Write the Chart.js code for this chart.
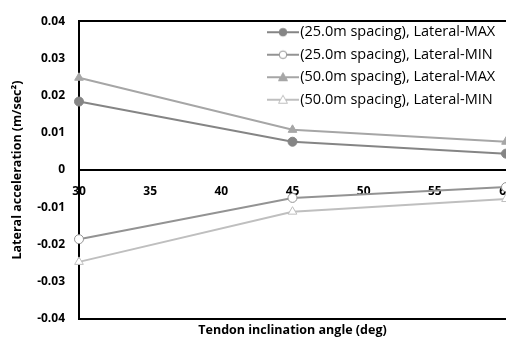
<!DOCTYPE html>
<html><head><meta charset="utf-8">
<script src="https://cdn.jsdelivr.net/npm/chart.js@4/dist/chart.umd.min.js"></script>
<style>html,body{margin:0;padding:0;background:#fff}#wrap{width:506px;height:340px}</style>
</head><body><div id="wrap"><canvas id="c" width="506" height="340"></canvas></div>
<script>
// ---- data ----
const angles = [30, 45, 60];
const max25 = [0.0184, 0.0076, 0.0044];
const min25 = [-0.0186, -0.0075, -0.0046];
const max50 = [0.0248, 0.0108, 0.0076];
const min50 = [-0.0247, -0.0112, -0.0078];
const seriesNames = [
  '(25.0m spacing), Lateral-MAX',
  '(25.0m spacing), Lateral-MIN',
  '(50.0m spacing), Lateral-MAX',
  '(50.0m spacing), Lateral-MIN'
];
const xTicks = [30, 35, 40, 45, 50, 55, 60];
const yTicks = [-0.04, -0.03, -0.02, -0.01, 0, 0.01, 0.02, 0.03, 0.04];
const xTitle = 'Tendon inclination angle (deg)';
const yTitle = 'Lateral acceleration (m/sec\u00B2)';

// ---- styles ----
const colors = ['#858585', '#939393', '#a6a6a6', '#bfbfbf'];
const shapes = ['circle', 'circle', 'triangle', 'triangle'];
const filled = [true, false, true, false];
const seriesValues = [max25, min25, max50, min50];

function pts(vals) { return angles.map((a, i) => ({x: a, y: vals[i]})); }

function makeSymbol(color, shape, fill) {
  const c = document.createElement('canvas');
  c.width = 32; c.height = 12;
  const g = c.getContext('2d');
  g.strokeStyle = color; g.lineWidth = 2;
  g.beginPath(); g.moveTo(0, 6); g.lineTo(32, 6); g.stroke();
  g.lineWidth = 1;
  g.fillStyle = fill ? color : '#ffffff';
  g.beginPath();
  if (shape === 'circle') { g.arc(16, 6, 3.8, 0, Math.PI * 2); }
  else { g.moveTo(16, 1.5); g.lineTo(20.5, 9.5); g.lineTo(11.5, 9.5); g.closePath(); }
  g.fill(); g.stroke();
  return c;
}

const datasets = seriesValues.map((v, i) => ({
  label: seriesNames[i],
  data: pts(v),
  borderColor: colors[i],
  backgroundColor: colors[i],
  borderWidth: 2,
  clip: false,
  pointStyle: shapes[i],
  pointRadius: shapes[i] === 'circle' ? 4.5 : 5,
  pointBorderWidth: 1,
  pointBackgroundColor: filled[i] ? colors[i] : '#ffffff',
  pointBorderColor: colors[i],
  tension: 0
}));

const legendPlace = {
  id: 'legendPlace',
  afterLayout(chart) {
    const l = chart.legend; if (!l) return;
    const w = l.width, h = l.height;
    l.left = 265; l.top = 17; l.right = l.left + w; l.bottom = l.top + h;
  }
};

const tickFont = {family: 'Open Sans', size: 12, weight: 'bold'};

new Chart(document.getElementById('c'), {
  type: 'line',
  data: {datasets},
  plugins: [legendPlace],
  options: {
    responsive: false,
    animation: false,
    layout: {padding: 0, autoPadding: false},
    plugins: {
      tooltip: {enabled: false},
      legend: {
        position: 'chartArea',
        align: 'start',
        labels: {
          usePointStyle: true,
          pointStyleWidth: 20,
          padding: 8,
          color: '#000',
          font: {family: 'Open Sans', size: 14.5},
          generateLabels(chart) {
            return chart.data.datasets.map((d, i) => ({
              text: d.label,
              pointStyle: makeSymbol(colors[i], shapes[i], filled[i]),
              fillStyle: colors[i], strokeStyle: colors[i], lineWidth: 0,
              fontColor: '#000', hidden: false, datasetIndex: i
            }));
          }
        }
      }
    },
    scales: {
      x: {
        type: 'linear', position: {y: 0}, min: 30, max: 60, z: 1,
        afterBuildTicks(s) { s.ticks = xTicks.map(v => ({value: v})); },
        afterFit(s) { s.paddingLeft = 0; s.paddingRight = 0; },
        grid: {display: false, drawTicks: false},
        border: {display: true, color: '#000', width: 2},
        ticks: {color: '#000', font: tickFont, padding: 14, maxRotation: 0, autoSkip: false}
      },
      xb: {
        type: 'linear', axis: 'x', position: 'bottom', min: 30, max: 60, z: 1,
        afterFit(s) { s.height = 19; },
        grid: {display: false, drawTicks: false},
        border: {display: true, color: '#000', width: 2},
        ticks: {display: false},
        title: {display: true, text: xTitle, color: '#000', font: {family: 'Open Sans', size: 12.5, weight: 'bold'}, padding: {top: 0, bottom: 0}}
      },
      xt: {
        type: 'linear', axis: 'x', position: 'top', min: 30, max: 60, z: 1,
        afterFit(s) { s.height = 15; },
        grid: {display: false, drawTicks: false},
        border: {display: true, color: '#000', width: 2},
        ticks: {display: false}
      },
      y: {
        type: 'linear', position: 'left', min: -0.04, max: 0.04, z: 1,
        afterBuildTicks(s) { s.ticks = yTicks.map(v => ({value: v})); },
        afterFit(s) { s.width = 79; },
        grid: {display: false, drawTicks: false},
        border: {display: true, color: '#000', width: 2},
        ticks: {color: '#000', font: tickFont, padding: 14,
          callback: v => (Math.abs(v) < 1e-9 ? '0' : String(Number(v.toFixed(2))))},
        title: {display: true, text: yTitle, color: '#000', font: {family: 'Open Sans', size: 12.5, weight: 'bold'}, padding: {top: 10, bottom: 0}}
      }
    }
  }
});
</script>
</body></html>
